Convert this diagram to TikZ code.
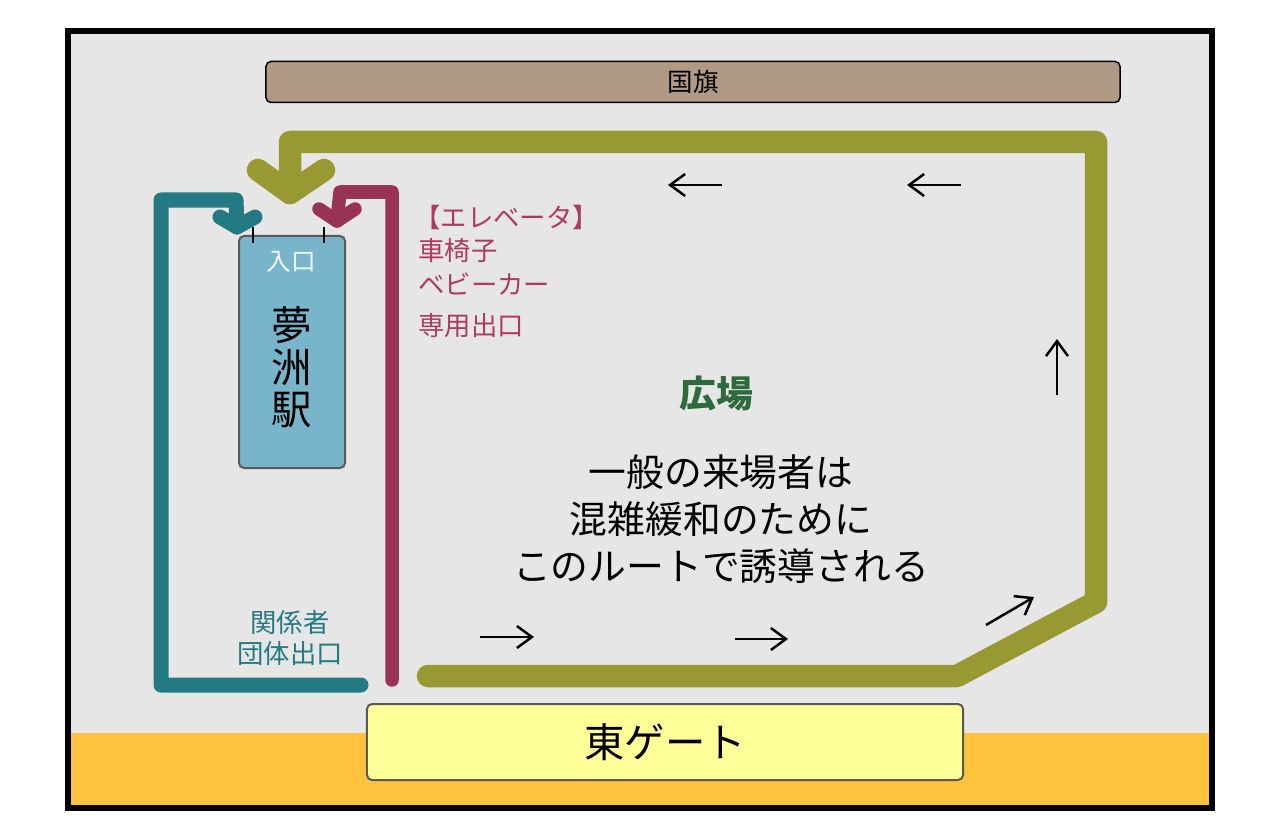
\documentclass[tikz,border=0pt]{standalone}
\usepackage{fontspec}
\setmainfont{Noto Sans CJK JP}
\usetikzlibrary{arrows.meta,positioning}
\definecolor{bggray}{HTML}{E6E6E6}
\definecolor{sand}{HTML}{FFC23C}
\definecolor{flagbrown}{HTML}{B09A86}
\definecolor{gateyellow}{HTML}{FFFF99}
\definecolor{ekiblue}{HTML}{79B5CA}
\definecolor{rteal}{HTML}{237A82}
\definecolor{rolive}{HTML}{999933}
\definecolor{rmag}{HTML}{993355}
\definecolor{lmag}{HTML}{AD3A62}
\definecolor{hgreen}{HTML}{2D6A3C}
\tikzset{
  box/.style={draw,rounded corners=1mm,inner sep=0pt},
  flag/.style={box,fill=flagbrown,line width=0.3mm,minimum width=170.8mm,minimum height=8.2mm,
               font=\fontsize{14.5}{16}\selectfont},
  gate/.style={box,draw=black!65,fill=gateyellow,line width=0.4mm,minimum width=119.2mm,
               minimum height=15.2mm,font=\fontsize{23}{26}\selectfont},
  eki/.style={box,draw=black!65,fill=ekiblue,line width=0.4mm,minimum width=21.2mm,minimum height=46.4mm},
  route/.style={line cap=round,line join=round},
  tealroute/.style={route,draw=rteal,line width=3mm},
  oliveroute/.style={route,draw=rolive,line width=4.5mm},
  magroute/.style={route,draw=rmag,line width=2.7mm},
  flowarr/.style={-{Straight Barb[length=3mm,width=4.4mm]},line width=0.5mm},
  tick/.style={line width=0.4mm},
  lbl/.style={inner sep=0pt,font=\fontsize{15}{18}\selectfont},
}
\begin{document}
\begin{tikzpicture}[x=0.2mm,y=-0.2mm]
  \useasboundingbox (0,0) rectangle (1280,831);
  \fill[white] (0,0) rectangle (1280,831);
  \fill[bggray] (68,31) rectangle (1212,808);
  \fill[sand] (68,733) rectangle (1212,808);
  \draw[line width=1.2mm] (68,31) rectangle (1212,808);

  \node[flag] (flag) at (693,82) {国旗};
  \node[gate] (gate) at (665,742) {東ゲート};

  % routes
  \draw[oliveroute] (428,676) -- (957,676) -- (1096,602) -- (1096,142) -- (290,142) -- (290,193);
  \draw[oliveroute] (258,170) -- (290,193) -- (324,170);
  \draw[tealroute] (361,685) -- (161,685) -- (161,200) -- (236,200) -- (237,227);
  \draw[tealroute] (220,217) -- (237,227) -- (255,217);
  \draw[magroute] (392,680) -- (392,192) -- (340,192) -- (337,221);
  \draw[magroute] (319,209) -- (337,221) -- (355,209);

  \node[eki] (eki) at (292,352) {};
  \draw[tick] (253,227) -- (253,243);
  \draw[tick] (324,227) -- (324,243);
  \node[lbl,text=white!90!ekiblue,font=\fontsize{14}{16}\selectfont] (iriguchi) at (291,262) {入口};
  \node[lbl,align=center,font=\fontsize{23}{24}\selectfont] (ekiname) at (292,367) {夢\\洲\\駅};

  \node[lbl,text=lmag,anchor=west] (ev1) at (414,217) {【エレベータ】};
  \node[lbl,text=lmag,anchor=west] (ev2) at (418,251) {車椅子};
  \node[lbl,text=lmag,anchor=west] (ev3) at (418,284) {ベビーカー};
  \node[lbl,text=lmag,anchor=west] (ev4) at (418,326) {専用出口};
  \node[lbl,text=rteal,align=center] (kankei) at (290,638) {関係者\\団体出口};

  \node[lbl,text=hgreen,font=\fontsize{21}{24}\bfseries] (hiroba) at (716,394) {広場};
  \node[lbl,align=center,font=\fontsize{21.5}{26.7}\selectfont] (guide) at (721,519)
    {一般の来場者は\\混雑緩和のために\\このルートで誘導される};

  \draw[flowarr] (722,185) -- (668,185);
  \draw[flowarr] (961,185) -- (907,185);
  \draw[flowarr] (480,637) -- (534,637);
  \draw[flowarr] (735,639) -- (788,639);
  \draw[flowarr] (1057,395) -- (1057,339);
  \draw[flowarr] (986,625) -- (1034,597);
\end{tikzpicture}
\end{document}
